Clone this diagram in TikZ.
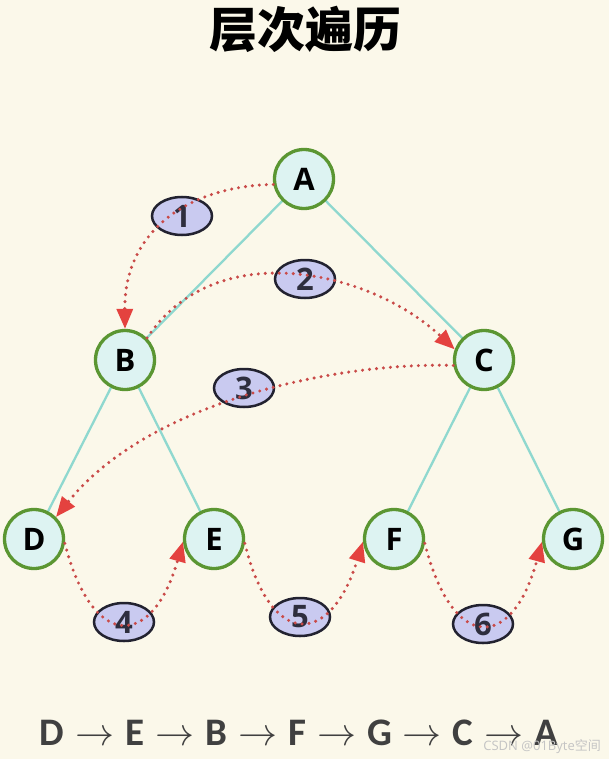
\documentclass[tikz,border=0pt]{standalone}
\usepackage{fix-cm}
\usepackage{fontspec}
\setmainfont{Open Sans}
\newfontfamily\cjk{Noto Sans CJK SC}
\newfontfamily\seqfont{Carlito}
\usetikzlibrary{shapes.geometric,arrows.meta}
\definecolor{bg}{HTML}{FBF8EA}
\definecolor{nodefill}{HTML}{DDF3F2}
\definecolor{nodeline}{HTML}{5B9632}
\definecolor{edgecol}{HTML}{8FD8CF}
\definecolor{ellfill}{HTML}{C9CAF0}
\definecolor{ellline}{HTML}{222230}
\definecolor{dotred}{HTML}{C94A48}
\definecolor{headred}{HTML}{E4423F}
\definecolor{digit}{HTML}{2E2E3E}
\definecolor{seqcol}{HTML}{404040}
\definecolor{wm}{HTML}{C4C4C4}
\newcommand{\seqarrow}{\hspace{11pt}$\rightarrow$\hspace{11pt}}
\tikzset{
  treenode/.style={circle,draw=nodeline,fill=nodefill,line width=3.3pt,inner sep=0pt,minimum size=59pt,font=\fontsize{31}{31}\selectfont\bfseries},
  treeedge/.style={draw=edgecol,line width=2.3pt},
  stepell/.style={ellipse,draw=ellline,fill=ellfill,line width=2.5pt,inner sep=0pt,minimum width=60pt,minimum height=38pt,text=digit,font=\fontsize{31}{31}\selectfont\bfseries},
  visit/.style={draw=dotred,line width=3.4pt,line cap=round,dash pattern=on 0pt off 7pt,-{Triangle[length=20pt,width=16pt,fill=headred,color=headred]}}
}
\begin{document}
\begin{tikzpicture}[x=1pt,y=-1pt]
\path[fill=bg] (0,0) rectangle (609,759);
\useasboundingbox (0,0) rectangle (609,759);
\node (title) at (305,29) {\cjk\bfseries\fontsize{48}{48}\selectfont 层次遍历};
% edges
\coordinate (pA) at (304,179);
\coordinate (pB) at (125,360);
\coordinate (pC) at (484,360);
\coordinate (pD) at (34,539);
\coordinate (pE) at (214,539);
\coordinate (pF) at (394,539);
\coordinate (pG) at (573,539);
\draw[treeedge] (pA) -- (pB);
\draw[treeedge] (pA) -- (pC);
\draw[treeedge] (pB) -- (pD);
\draw[treeedge] (pB) -- (pE);
\draw[treeedge] (pC) -- (pF);
\draw[treeedge] (pC) -- (pG);
% nodes
\node[treenode] (A) at (pA) {A};
\node[treenode] (B) at (pB) {B};
\node[treenode] (C) at (pC) {C};
\node[treenode] (D) at (pD) {D};
\node[treenode] (E) at (pE) {E};
\node[treenode] (F) at (pF) {F};
\node[treenode] (G) at (pG) {G};
% step labels
\node[stepell] (s1) at (182,216) {1};
\node[stepell] (s2) at (305,279) {2};
\node[stepell] (s3) at (244,388) {3};
\node[stepell] (s4) at (124,622) {4};
\node[stepell] (s5) at (300,617) {5};
\node[stepell] (s6) at (483,624) {6};
% visiting arrows
\draw[visit] (A.190) .. controls (190,186) and (124,230) .. (B.north);
\draw[visit] (B.45) .. controls (215,235) and (370,270) .. (C.160);
\draw[visit] (C.190) .. controls (340,362) and (150,400) .. (D.45);
\draw[visit] (D.-8) .. controls (92,650) and (152,650) .. (E.185);
\draw[visit] (E.-8) .. controls (270,648) and (330,648) .. (F.185);
\draw[visit] (F.-8) .. controls (452,652) and (512,652) .. (G.185);
% sequence
\node[text=seqcol] (seq) at (299,733) {\seqfont\bfseries\fontsize{39}{39}\selectfont D\seqarrow E\seqarrow B\seqarrow F\seqarrow G\seqarrow C\seqarrow A};
\node[anchor=east,text=wm,inner sep=0pt] (mark) at (601,747) {\fontsize{13}{13}\selectfont CSDN @01Byte{\cjk 空间}};
\end{tikzpicture}
\end{document}
